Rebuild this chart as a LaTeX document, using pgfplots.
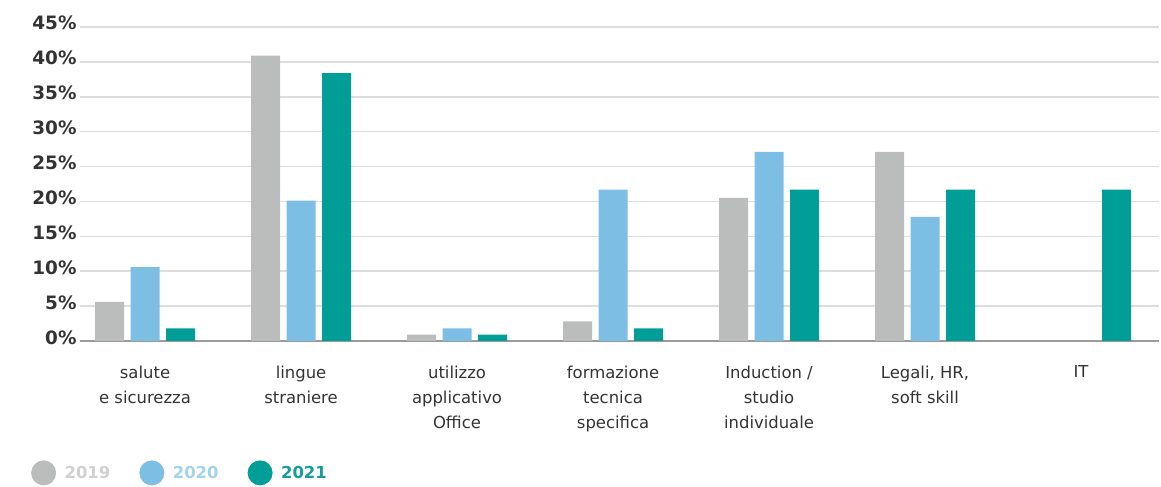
\documentclass[border=0pt]{standalone}
\usepackage{pgfplots}
\pgfplotsset{compat=1.18}
\usepackage{fontspec}
\setmainfont{DejaVu Sans}
\definecolor{c19}{HTML}{BBBCBC}
\definecolor{c20}{HTML}{7DBFE4}
\definecolor{c21}{HTML}{009E96}
\definecolor{t19}{HTML}{D0D0D0}
\definecolor{t20}{HTML}{A3D2EE}
\definecolor{t21}{HTML}{139F97}
\definecolor{lbl}{HTML}{333333}
\definecolor{gridc}{HTML}{DDDDDD}
\definecolor{basec}{HTML}{9A9A9A}
\begin{document}
\begin{tikzpicture}
\path[use as bounding box] (0,0) rectangle (1161bp,487bp);
\begin{axis}[
  at={(79.5bp,146bp)}, anchor=south west,
  scale only axis, width=1079.5bp, height=314bp,
  ymin=0, ymax=45, xmin=-0.42, xmax=6.5,
  ybar=6.5bp, bar width=29bp,
  axis lines*=left,
  y axis line style={draw=none},
  x axis line style={draw=basec, line width=2bp, -},
  tick style={draw=none},
  ytick={0,5,...,45},
  yticklabel={\pgfmathprintnumber{\tick}\%},
  /pgf/number format/assume math mode=true,
  yticklabel style={font=\fontsize{18.5}{20}\selectfont\bfseries, text=lbl, anchor=base east, xshift=0.5bp, yshift=-3bp},
  ymajorgrids, grid style={line width=1.5bp, draw=gridc},
  xtick={0,...,6},
  xticklabels={{salute\\e sicurezza},{lingue\\straniere},{utilizzo\\applicativo\\Office},{formazione\\tecnica\\specifica},{Induction /\\studio\\individuale},{Legali, HR,\\soft skill},{IT}},
  xticklabel style={align=center, font=\fontsize{16.5}{25}\selectfont, text=lbl, anchor=north, yshift=-17bp},
  legend style={at={(-0.045,-0.42)}, anchor=west, draw=none, fill=none,
    font=\fontsize{16.5}{20}\selectfont\bfseries, inner sep=0pt,
    /tikz/every odd column/.append style={column sep=6.5bp},
    /tikz/every even column/.append style={column sep=27bp}},
  legend columns=-1,
]
\addplot[draw=none, fill=c19, legend image code/.code={\fill[c19] (0bp,0bp) circle (12.5bp);}] coordinates {(0,5.6)(1,40.9)(2,0.9)(3,2.8)(4,20.5)(5,27.1)};
\addplot[draw=none, fill=c20, legend image code/.code={\fill[c20] (0bp,0bp) circle (12.5bp);}] coordinates {(0,10.6)(1,20.1)(2,1.8)(3,21.7)(4,27.1)(5,17.8)};
\addplot[draw=none, fill=c21, legend image code/.code={\fill[c21] (0bp,0bp) circle (12.5bp);}] coordinates {(0,1.8)(1,38.4)(2,0.9)(3,1.8)(4,21.7)(5,21.7)(6,21.7)};
\legend{\textcolor{t19}{2019},\textcolor{t20}{2020},\textcolor{t21}{2021}}
\end{axis}
\end{tikzpicture}
\end{document}
